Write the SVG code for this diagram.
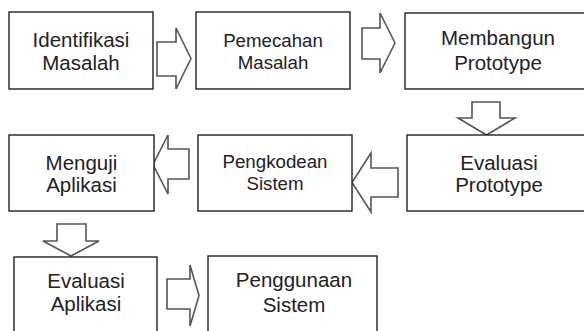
<svg xmlns="http://www.w3.org/2000/svg" width="584" height="331" viewBox="0 0 584 331">
<style>
.box{fill:#fff;stroke:#222;stroke-width:1.4}
.arr{fill:#fff;stroke:#555;stroke-width:1.6;stroke-linejoin:miter}
text{font-family:"Liberation Sans",Arial,sans-serif;font-size:20.5px;fill:#222;text-anchor:middle}
.sm{font-size:18.7px}
</style>
<rect width="584" height="331" fill="#fff"/>
<g id="connectors">
<path class="arr" d="M157,42 H176 V28 L191,58.5 L176,89 V76 H157 Z"/>
<path class="arr" d="M362,28 H380 V13 L395,43 L380,73 V59 H362 Z"/>
<path class="arr" d="M472,102 H500 V118 H515 L486.5,135 L458,118 H472 Z"/>
<path class="arr" d="M398,168 V197 H371 V212 L352,182.5 L371,153 V168 Z"/>
<path class="arr" d="M189,149 V179 H168 V194 L153,164.5 L168,135 V149 Z"/>
<path class="arr" d="M57,224 H86 V241 H99 L71,256 L43,241 H57 Z"/>
<path class="arr" d="M167,279 H190 V265 L199,295.5 L190,326 V309 H167 Z"/>
</g>
<g id="identifikasi">
<rect class="box" x="9" y="12" width="144" height="77"/>
<text x="81" y="47">Identifikasi</text>
<text x="81" y="70">Masalah</text>
</g>
<g id="pemecahan">
<rect class="box" x="196" y="12" width="154" height="77"/>
<text class="sm" x="273" y="47">Pemecahan</text>
<text class="sm" x="273" y="69">Masalah</text>
</g>
<g id="membangun">
<rect class="box" x="405" y="13" width="200" height="76"/>
<text x="498" y="45">Membangun</text>
<text x="498" y="70">Prototype</text>
</g>
<g id="evaluasi-prototype">
<rect class="box" x="407" y="135" width="200" height="76"/>
<text x="499" y="170">Evaluasi</text>
<text x="499" y="192">Prototype</text>
</g>
<g id="pengkodean">
<rect class="box" x="198" y="135" width="154" height="76"/>
<text class="sm" x="275" y="168">Pengkodean</text>
<text class="sm" x="275" y="190">Sistem</text>
</g>
<g id="menguji">
<rect class="box" x="9" y="135" width="145" height="76"/>
<text x="81.5" y="170">Menguji</text>
<text x="81.5" y="192">Aplikasi</text>
</g>
<g id="evaluasi-aplikasi">
<rect class="box" x="14" y="257" width="143" height="90"/>
<text x="86" y="288">Evaluasi</text>
<text x="86" y="311">Aplikasi</text>
</g>
<g id="penggunaan">
<rect class="box" x="208" y="256" width="169" height="90"/>
<text x="294" y="287">Penggunaan</text>
<text x="294" y="312">Sistem</text>
</g>
</svg>
